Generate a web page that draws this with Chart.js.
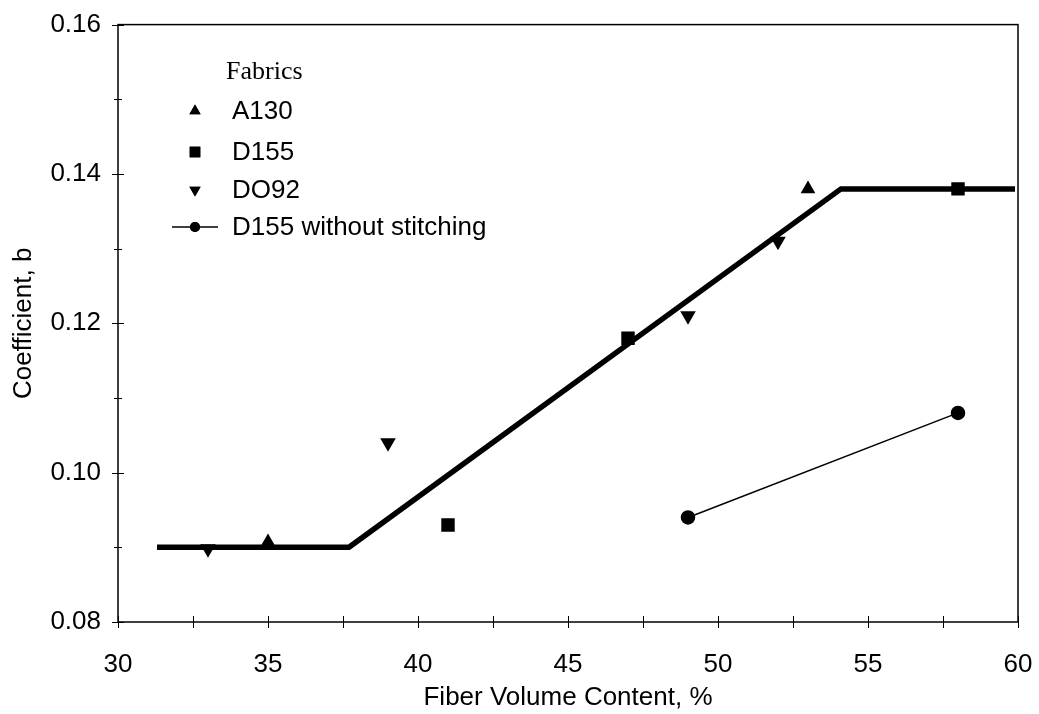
<!DOCTYPE html>
<html>
<head>
<meta charset="utf-8">
<title>Coefficient b vs fiber volume content</title>
<script src="https://cdn.jsdelivr.net/npm/chart.js@4.4.1/dist/chart.umd.min.js"></script>
<style>
  body { margin: 0; background: #fff; }
  #wrap { width: 1039px; height: 714px; }
</style>
</head>
<body>
<div id="wrap"><canvas id="chart" width="1039" height="714"></canvas></div>
<script>
// values
const a130X = [35, 53];
const a130Y = [0.0907, 0.138];
const d155X = [41, 47, 58];
const d155Y = [0.093, 0.118, 0.138];
const do92X = [33, 39, 49, 52];
const do92Y = [0.0898, 0.104, 0.121, 0.131];
const noStitchX = [49, 58];
const noStitchY = [0.094, 0.108];
const fitX = [31.3, 37.7, 54.1, 59.9];
const fitY = [0.09, 0.09, 0.138, 0.138];

const legendTitle = "Fabrics";
const legendNames = ["A130", "D155", "DO92", "D155 without stitching"];

const sans = "'Liberation Sans', Arial, sans-serif";
const serif = "'Liberation Serif', 'Times New Roman', serif";

function pts(xs, ys) {
  return xs.map((x, i) => ({ x: x, y: ys[i] }));
}

// box round the plot, ticks crossing the axes, and the legend
const decorations = {
  id: "decorations",
  afterDraw(chart) {
    const ctx = chart.ctx;
    const area = chart.chartArea;
    const xs = chart.scales.x;
    const ys = chart.scales.y;
    ctx.save();
    ctx.strokeStyle = "#000";
    ctx.lineWidth = 1.5;
    ctx.strokeRect(area.left, area.top, area.right - area.left, area.bottom - area.top);

    ctx.lineWidth = 1;
    ctx.beginPath();
    xs.ticks.forEach((t) => {
      const px = Math.round(xs.getPixelForValue(t.value)) + 0.5;
      ctx.moveTo(px, area.bottom - 6);
      ctx.lineTo(px, area.bottom + 6);
    });
    ys.ticks.forEach((t) => {
      const py = Math.round(ys.getPixelForValue(t.value)) + 0.5;
      const major = Math.round(t.value * 100) % 2 === 0;
      const len = major ? 6 : 4;
      ctx.moveTo(area.left - len, py);
      ctx.lineTo(area.left + len, py);
    });
    ctx.stroke();

    // legend
    ctx.fillStyle = "#000";
    ctx.textBaseline = "middle";
    ctx.textAlign = "left";
    ctx.font = "26px " + serif;
    ctx.fillText(legendTitle, 226, 72);

    ctx.font = "26px " + sans;
    const rows = [111, 152, 190, 227];
    const marks = [
      { style: "triangle", radius: 6.5, rotation: 0 },
      { style: "rect", radius: 7.5, rotation: 0 },
      { style: "triangle", radius: 6.5, rotation: 180 },
      { style: "circle", radius: 5, rotation: 0 },
    ];
    rows.forEach((y, i) => {
      if (i === 3) {
        ctx.lineWidth = 1.5;
        ctx.beginPath();
        ctx.moveTo(172, y);
        ctx.lineTo(218, y);
        ctx.stroke();
      }
      Chart.helpers.drawPoint(ctx, {
        pointStyle: marks[i].style,
        radius: marks[i].radius,
        rotation: marks[i].rotation,
        borderWidth: 0,
      }, 195, y);
      ctx.fill();
      ctx.fillText(legendNames[i], 232, y + 1);
    });
    ctx.restore();
  },
};

new Chart(document.getElementById("chart"), {
  type: "scatter",
  data: {
    datasets: [
      {
        label: "fit",
        data: pts(fitX, fitY),
        showLine: true,
        borderColor: "#000",
        borderWidth: 5.5,
        pointRadius: 0,
        borderJoinStyle: "miter",
      },
      {
        label: legendNames[0],
        data: pts(a130X, a130Y),
        pointStyle: "triangle",
        pointRadius: 8.5,
        backgroundColor: "#000",
        borderColor: "#000",
        borderWidth: 0,
      },
      {
        label: legendNames[1],
        data: pts(d155X, d155Y),
        pointStyle: "rect",
        pointRadius: 9.5,
        backgroundColor: "#000",
        borderColor: "#000",
        borderWidth: 0,
      },
      {
        label: legendNames[2],
        data: pts(do92X, do92Y),
        pointStyle: "triangle",
        rotation: 180,
        pointRadius: 9,
        backgroundColor: "#000",
        borderColor: "#000",
        borderWidth: 0,
      },
      {
        label: legendNames[3],
        data: pts(noStitchX, noStitchY),
        showLine: true,
        pointStyle: "circle",
        pointRadius: 6.5,
        backgroundColor: "#000",
        borderColor: "#000",
        borderWidth: 1.5,
      },
    ],
  },
  options: {
    responsive: false,
    animation: false,
    layout: { padding: { top: 14, right: 21, left: 0, bottom: 0 } },
    plugins: {
      legend: { display: false },
      tooltip: { enabled: false },
    },
    scales: {
      x: {
        type: "linear",
        min: 30,
        max: 60,
        grid: { display: false },
        border: { display: false },
        ticks: {
          stepSize: 2.5,
          autoSkip: false,
          maxRotation: 0,
          padding: 19,
          color: "#000",
          font: { family: sans, size: 26 },
          callback: (v) => (v % 5 === 0 ? String(v) : ""),
        },
        title: {
          display: true,
          text: "Fiber Volume Content, %",
          color: "#000",
          font: { family: sans, size: 26 },
          padding: { top: 0, bottom: 1 },
        },
        afterFit: (scale) => {
          scale.height = 92;
          scale.paddingLeft = 0;
          scale.paddingRight = 0;
        },
      },
      y: {
        type: "linear",
        min: 0.08,
        max: 0.16,
        grid: { display: false },
        border: { display: false },
        ticks: {
          stepSize: 0.01,
          autoSkip: false,
          padding: 9,
          color: "#000",
          font: { family: sans, size: 26 },
          callback: (v) => (Math.round(v * 100) % 2 === 0 ? v.toFixed(2) : ""),
        },
        title: {
          display: true,
          text: "Coefficient, b",
          color: "#000",
          font: { family: sans, size: 26 },
          padding: { top: 8, bottom: 0 },
        },
        afterFit: (scale) => { scale.width = 118; },
      },
    },
  },
  plugins: [decorations],
});
</script>
</body>
</html>
